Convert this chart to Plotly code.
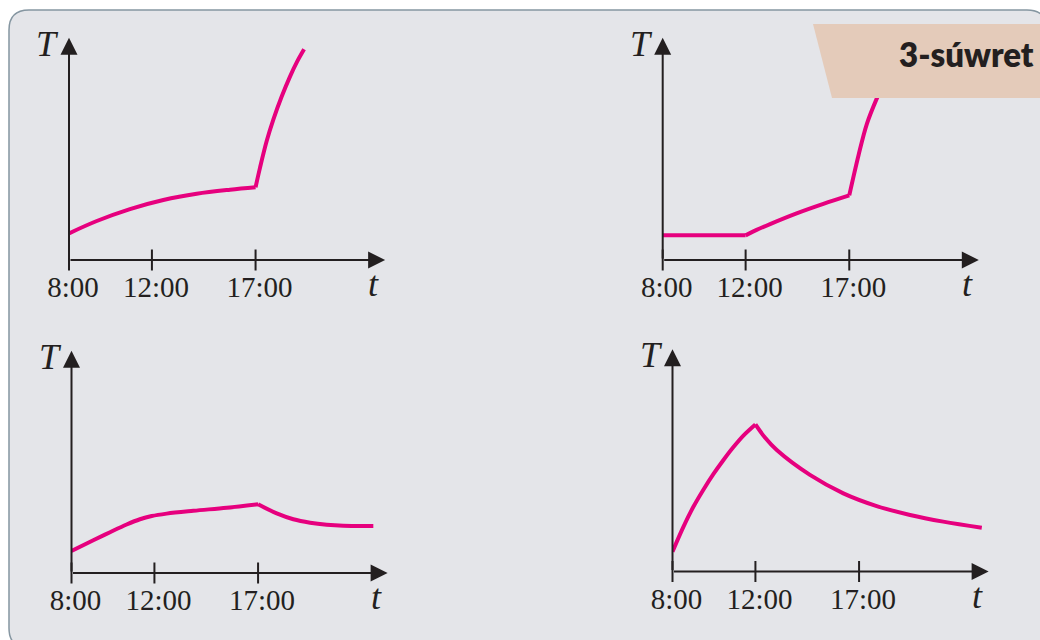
import plotly.graph_objects as go

W, H = 1040, 640

# ---- data: time of day (hours) vs. temperature (arbitrary units) ----
tick_hours = [8, 12, 17]
tick_text = ["8:00", "12:00", "17:00"]

# panel 1: slow warming all day, fast rise after 17:00
c1_day_t = [8, 9.34, 10.94, 12.55, 14.16, 15.77, 17]
c1_day_T = [1.32, 1.93, 2.52, 2.97, 3.28, 3.48, 3.60]
c1_eve_t = [17, 17.21, 17.54, 17.86, 18.26, 18.66, 19.01, 19.34]
c1_eve_T = [3.60, 4.55, 5.90, 6.96, 8.09, 9.08, 9.83, 10.43]

# panel 2: constant until 12:00, warming, fast rise after 17:00
c2_flat_t = [8, 12]
c2_flat_T = [1.22, 1.22]
c2_day_t = [12, 12.53, 13.18, 14.46, 15.75, 17]
c2_day_T = [1.22, 1.49, 1.78, 2.31, 2.78, 3.20]
c2_eve_t = [17, 17.45, 17.85, 18.33, 18.90, 19.52]
c2_eve_T = [3.20, 5.20, 6.74, 8.00, 9.26, 10.30]

# panel 3: warming, then cooling to a steady level after 17:00
c3_day_t = [8, 9.05, 9.86, 10.66, 11.30, 11.87, 12.59, 13.88, 15.49, 17]
c3_day_T = [1.09, 1.62, 2.02, 2.40, 2.66, 2.82, 2.94, 3.08, 3.23, 3.40]
c3_eve_t = [17, 17.90, 18.70, 19.51, 20.31, 21.11, 22.56]
c3_eve_T = [3.40, 2.95, 2.66, 2.49, 2.39, 2.34, 2.33]

# panel 4: heating until 12:00, then cooling
c4_heat_t = [8, 8.52, 9.00, 9.49, 9.97, 10.45, 10.93, 11.42, 12]
c4_heat_T = [0.98, 2.20, 3.19, 4.05, 4.82, 5.51, 6.15, 6.73, 7.28]
c4_cool_t = [12, 12.46, 13.03, 14.63, 16.24, 17.85, 19.46, 21.06, 22.92]
c4_cool_T = [7.28, 6.63, 6.01, 4.78, 3.87, 3.24, 2.80, 2.47, 2.17]

panels = [
    [(c1_day_t, c1_day_T), (c1_eve_t, c1_eve_T)],
    [(c2_flat_t, c2_flat_T), (c2_day_t, c2_day_T), (c2_eve_t, c2_eve_T)],
    [(c3_day_t, c3_day_T), (c3_eve_t, c3_eve_T)],
    [(c4_heat_t, c4_heat_T), (c4_cool_t, c4_cool_T)],
]

# ---- layout geometry (pixels) ----
origins = [(69, 260), (662.7, 260), (71.5, 573), (672.5, 571.5)]
PX_PER_HOUR = 20.73
PX_PER_UNIT = 20.2
T_TOP = 11
H_END = 23.25
T_LABEL_HOUR = 22.7

INK = "#231f20"
CURVE = "#e6007e"
SERIF = "Liberation Serif"


def px_x(p):
    return p / W


def px_y(p):
    return 1 - p / H


fig = go.Figure()
layout_axes = {}
annotations = []

for i, (segments, (ox, oy)) in enumerate(zip(panels, origins)):
    n = "" if i == 0 else str(i + 1)
    xa, ya = "x" + n, "y" + n
    width_px = (H_END - 8) * PX_PER_HOUR
    height_px = T_TOP * PX_PER_UNIT
    layout_axes["xaxis" + n] = dict(
        domain=[px_x(ox), px_x(ox + width_px)],
        range=[8, H_END],
        anchor=ya, automargin=False,
        showgrid=False, zeroline=False, showline=False, ticks="",
        tickmode="array", tickvals=tick_hours, ticktext=tick_text,
        tickfont=dict(family=SERIF, size=29, color=INK),
        ticklabelstandoff=7, ticklabelshift=4,
        fixedrange=True,
    )
    layout_axes["yaxis" + n] = dict(
        domain=[px_y(oy), px_y(oy - height_px)],
        range=[0, T_TOP],
        anchor=xa, automargin=False,
        showgrid=False, zeroline=False, showline=False,
        showticklabels=False, ticks="",
        fixedrange=True,
    )

    for t, T in segments:
        fig.add_trace(go.Scatter(
            x=t, y=T, xaxis=xa, yaxis=ya, mode="lines",
            line=dict(color=CURVE, width=4, shape="spline", smoothing=1.0),
            cliponaxis=False, showlegend=False, hoverinfo="skip",
        ))

    # tick marks crossing the time axis
    fig.add_trace(go.Scatter(
        x=tick_hours, y=[0] * len(tick_hours), xaxis=xa, yaxis=ya,
        mode="markers",
        marker=dict(symbol="line-ns", size=15, line=dict(color=INK, width=2)),
        cliponaxis=False, showlegend=False, hoverinfo="skip",
    ))

    arrow = dict(showarrow=True, arrowhead=2, arrowsize=1.7, arrowwidth=2,
                 arrowcolor=INK, text="", standoff=0, startstandoff=0,
                 xref=xa, yref=ya, axref=xa, ayref=ya)
    # time axis
    annotations.append(dict(arrow, x=H_END, y=0, ax=8, ay=0))
    # temperature axis
    annotations.append(dict(arrow, x=8, y=T_TOP, ax=8, ay=0))
    # axis names
    annotations.append(dict(
        text="T", x=8, y=T_TOP, xref=xa, yref=ya, showarrow=False,
        xanchor="right", yanchor="middle", xshift=-8, yshift=-6,
        font=dict(family=SERIF, size=36, color=INK, style="italic"),
    ))
    annotations.append(dict(
        text="t", x=T_LABEL_HOUR, y=0, xref=xa, yref=ya, showarrow=False,
        xanchor="center", yanchor="middle", yshift=-24,
        font=dict(family=SERIF, size=36, color=INK, style="italic"),
    ))

# figure caption tag
annotations.append(dict(
    text="3-súwret", x=px_x(1036), y=px_y(54), xref="paper", yref="paper",
    showarrow=False, xanchor="right", yanchor="middle",
    font=dict(family="Lato", size=33, color=INK, weight=800),
))

# rounded background panel
x0, y0, x1, y1, r = 9, 10, 1047, 648, 20
pts = [
    ("M", x0 + r, y0), ("L", x1 - r, y0), ("Q", x1, y0, x1, y0 + r),
    ("L", x1, y1 - r), ("Q", x1, y1, x1 - r, y1), ("L", x0 + r, y1),
    ("Q", x0, y1, x0, y1 - r), ("L", x0, y0 + r), ("Q", x0, y0, x0 + r, y0),
]


def to_path(cmds):
    out = []
    for c in cmds:
        op, coords = c[0], c[1:]
        vals = []
        for k in range(0, len(coords), 2):
            vals.append(f"{px_x(coords[k]):.5f},{px_y(coords[k + 1]):.5f}")
        out.append(op + " ".join(vals))
    return " ".join(out) + " Z"


panel_path = to_path(pts)
tag_path = to_path([("M", 813, 24), ("L", 1045, 24), ("L", 1045, 98), ("L", 832, 98)])

shapes = [
    dict(type="path", path=panel_path, xref="paper", yref="paper",
         fillcolor="#e4e5e9", line=dict(color="#8596a1", width=1.5), layer="below"),
    dict(type="path", path=tag_path, xref="paper", yref="paper",
         fillcolor="#e4cbba", line=dict(width=0), layer="above"),
]

fig.update_layout(
    width=W, height=H,
    margin=dict(l=0, r=0, t=0, b=0, autoexpand=False),
    paper_bgcolor="white", plot_bgcolor="rgba(0,0,0,0)",
    showlegend=False,
    annotations=annotations,
    shapes=shapes,
    **layout_axes,
)

fig.write_html("out.html", config={"displayModeBar": False})
